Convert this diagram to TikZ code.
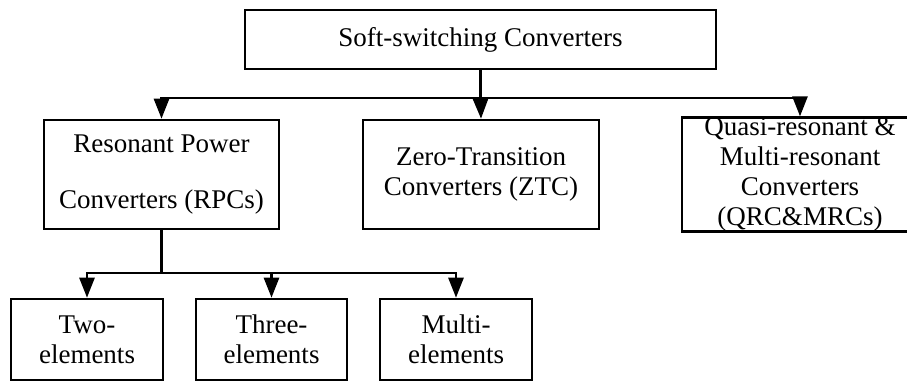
\documentclass[tikz,border=0pt]{standalone}
\usepackage{fontspec}
\setmainfont{Liberation Serif}
\usetikzlibrary{arrows.meta}
\begin{document}
\begin{tikzpicture}[x=1pt,y=-1pt,
  box/.style={draw=black,line width=2.6pt,fill=white,inner sep=0pt,align=center,
    font=\fontsize{27}{30}\selectfont},
  conn/.style={line width=2.6pt},
  arr/.style={line width=2.6pt,-{Triangle[width=15pt,length=20pt]}}]
\useasboundingbox (0,0) rectangle (907,381);
\fill[white] (0,0) rectangle (907,381);
\node[box,minimum width=471pt,minimum height=59pt] (top) at (480.5,39.5) {Soft-switching Converters};
\node[box,minimum width=235pt,minimum height=109pt] (rpc) at (161.5,174.5) {Resonant Power\\[26pt]Converters (RPCs)};
\node[box,minimum width=236pt,minimum height=109pt] (ztc) at (481,174.5) {Zero-Transition\\Converters (ZTC)};
\node[box,minimum width=236pt,minimum height=109pt] (qrc) at (800,174.5) {Quasi-resonant \&\\Multi-resonant\\Converters\\(QRC\&MRCs)};
\node[box,minimum width=152pt,minimum height=81pt] (two) at (87,339.5) {Two-\\elements};
\node[box,minimum width=151pt,minimum height=81pt] (three) at (271.5,339.5) {Three-\\elements};
\node[box,minimum width=152pt,minimum height=81pt] (multi) at (456,339.5) {Multi-\\elements};
\draw[conn] (top.south) -- (top.south |- 0,98) coordinate (j);
\draw[arr] (j) -| (rpc.north);
\draw[arr] (j) -- (ztc.north);
\draw[arr] (j) -| (qrc.north);
\draw[conn] (rpc.south) -- (rpc.south |- 0,273) coordinate (k);
\draw[arr] (k) -| (two.north);
\draw[arr] (k) -| (three.north);
\draw[arr] (k) -| (multi.north);
\end{tikzpicture}
\end{document}
